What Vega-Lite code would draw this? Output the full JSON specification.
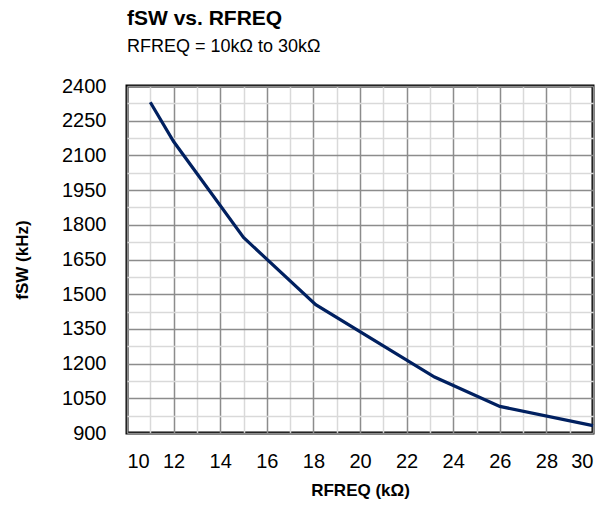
{
  "$schema": "https://vega.github.io/schema/vega-lite/v6.json",
  "width": 466,
  "height": 347,
  "autosize": "none",
  "padding": {"left": 127, "top": 86, "right": 12, "bottom": 83},
  "background": "white",
  "title": {
    "text": "fSW vs. RFREQ",
    "subtitle": "RFREQ = 10kΩ to 30kΩ",
    "anchor": "start",
    "frame": "group",
    "font": "Liberation Sans",
    "fontSize": 21,
    "fontWeight": "bold",
    "color": "black",
    "subtitleFont": "Liberation Sans",
    "subtitleFontSize": 18,
    "subtitleColor": "black",
    "subtitlePadding": 9,
    "offset": 20
  },
  "config": {
    "view": {"stroke": "black", "strokeWidth": 3},
    "axis": {
      "labelFont": "Liberation Sans",
      "labelFontSize": 20,
      "labelColor": "black",
      "titleFont": "Liberation Sans",
      "titleFontSize": 17,
      "titleFontWeight": "bold",
      "titleColor": "black",
      "domain": false,
      "ticks": false
    }
  },
  "data": {
    "values": [
      {"r": 11, "f": 2330},
      {"r": 12, "f": 2160},
      {"r": 15, "f": 1745},
      {"r": 18.1, "f": 1455},
      {"r": 23.2, "f": 1142},
      {"r": 26, "f": 1015},
      {"r": 30, "f": 932}
    ]
  },
  "mark": {"type": "line", "color": "#002060", "strokeWidth": 3.2},
  "encoding": {
    "x": {
      "field": "r",
      "type": "quantitative",
      "scale": {"domain": [10, 30], "nice": false, "zero": false},
      "axis": {
        "title": "RFREQ (kΩ)",
        "values": [10,11,12,13,14,15,16,17,18,19,20,21,22,23,24,25,26,27,28,29,30],
        "labelExpr": "datum.value % 2 === 0 ? datum.label : ''",
        "labelPadding": 18,
        "titlePadding": 11,
        "gridColor": {"condition": {"test": "datum.value % 2 === 0", "value": "#8c8c8c"}, "value": "#d9d9d9"},
        "gridWidth": 1.5
      }
    },
    "y": {
      "field": "f",
      "type": "quantitative",
      "scale": {"domain": [900, 2400], "nice": false, "zero": false},
      "axis": {
        "title": "fSW (kHz)",
        "format": "d",
        "values": [900,975,1050,1125,1200,1275,1350,1425,1500,1575,1650,1725,1800,1875,1950,2025,2100,2175,2250,2325,2400],
        "labelExpr": "datum.value % 150 === 0 ? datum.label : ''",
        "labelPadding": 21,
        "titlePadding": 30,
        "gridColor": {"condition": {"test": "datum.value % 150 === 0", "value": "#8c8c8c"}, "value": "#d9d9d9"},
        "gridWidth": 1.5
      }
    }
  }
}
